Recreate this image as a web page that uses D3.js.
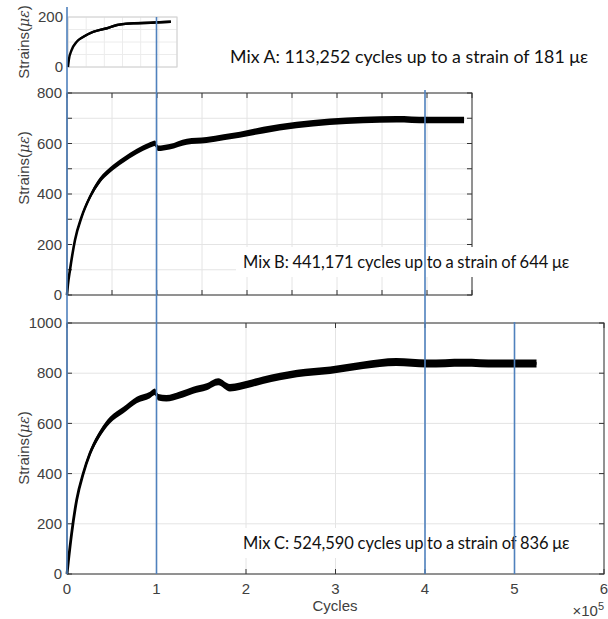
<!DOCTYPE html>
<html>
<head>
<meta charset="utf-8">
<script src="https://cdn.jsdelivr.net/npm/d3@7"></script>
<style>
  body { margin: 0; background: #fff; }
  svg { display: block; }
  .tick-label { font-family: "Liberation Sans", Arial, sans-serif; font-size: 15px; fill: #404040; }
  .note { font-family: Lato, "Open Sans", sans-serif; fill: #111; }
</style>
</head>
<body>
<div id="chart"></div>
<script>
// Mix A (small inset at the top)
const mixACycles = [0, 1000, 4000, 9600, 17000, 28000, 43000, 54000, 72600, 91000, 113252];
const mixAStrain = [0, 30, 68, 101, 121, 141, 155, 168, 175, 177, 181];
const mixASpread = [1, 2, 3, 4, 5, 5, 5, 5, 5, 5, 5];

// Mix B (middle panel)
const mixBCycles = [0, 1000, 3300, 8900, 16300, 25600, 36700, 47800, 62600, 77400, 92000, 97800, 101000,
    114000, 133000, 155000, 174000, 192000, 218000, 255000, 292000, 329000, 366000, 400000, 441171];
const mixBStrain = [0, 40, 99, 218, 310, 389, 455, 495, 535, 568, 594, 601, 581,
    587, 607, 614, 625, 635, 653, 673, 686, 693, 696, 693, 693];
const mixBSpread = [1, 2, 4, 7, 9, 10, 11, 11, 11, 11, 11, 11, 11,
    11, 12, 12, 12, 12, 13, 13, 13, 13, 13, 13, 13];

// Mix C (bottom panel)
const mixCCycles = [0, 1500, 5200, 10800, 18200, 25700, 36900, 48000, 63000, 77900, 92700, 98000, 102000,
    111000, 126000, 141000, 156000, 169000, 182000, 193000, 219000, 257000, 294000, 331000, 368000,
    402000, 443000, 480000, 524590];
const mixCStrain = [0, 50, 162, 295, 401, 481, 560, 613, 653, 693, 713, 726, 704,
    700, 713, 732, 746, 766, 742, 748, 772, 799, 812, 832, 845,
    839, 842, 839, 839];
const mixCSpread = [1, 3, 6, 9, 11, 12, 13, 13, 13, 13, 13, 13, 13,
    13, 14, 14, 14, 14, 15, 15, 15, 15, 15, 15, 16,
    16, 16, 16, 16];

const notes = [
    'Mix A: 113,252 cycles up to a strain of 181 με',
    'Mix B: 441,171 cycles up to a strain of 644 με',
    'Mix C: 524,590 cycles up to a strain of 836 με'
];
const markerCycles = [0, 100000, 400000, 500000];

const width = 608, height = 619;
const svg = d3.select('#chart').append('svg')
    .attr('width', width).attr('height', height);

const gridLayer = svg.append('g');
const dataLayer = svg.append('g');
const noteLayer = svg.append('g');
const markLayer = svg.append('g');

// panels: domain and pixel box
const panels = [
    { x: d3.scaleLinear().domain([0, 120000]).range([68, 177]),
      y: d3.scaleLinear().domain([0, 200]).range([67, 17]),
      xGrid: d3.range(0, 120001, 20000), yGrid: d3.range(0, 201, 50),
      yTicks: [], yLabels: [0, 200], xTicks: [],
      frame: '#d0d0d0', grid: '#ececec', lw: 2.4,
      cycles: mixACycles, strain: mixAStrain, spread: mixASpread, labelY: 42 },
    { x: d3.scaleLinear().domain([0, 450000]).range([67, 472]),
      y: d3.scaleLinear().domain([0, 800]).range([295, 93]),
      xGrid: d3.range(0, 450001, 50000), yGrid: d3.range(0, 801, 100),
      yTicks: d3.range(0, 801, 100), yLabels: d3.range(0, 801, 200), xTicks: d3.range(0, 450001, 50000),
      frame: '#333', grid: '#e4e4e4', lw: 2.6,
      cycles: mixBCycles, strain: mixBStrain, spread: mixBSpread, labelY: 168 },
    { x: d3.scaleLinear().domain([0, 600000]).range([67, 604]),
      y: d3.scaleLinear().domain([0, 1000]).range([574, 323]),
      xGrid: d3.range(0, 600001, 100000), yGrid: d3.range(0, 1001, 200),
      yTicks: d3.range(0, 1001, 200), yLabels: d3.range(0, 1001, 200), xTicks: d3.range(0, 600001, 100000),
      frame: '#333', grid: '#e4e4e4', lw: 2.8,
      cycles: mixCCycles, strain: mixCStrain, spread: mixCSpread, labelY: 448 }
];

panels.forEach((p, i) => {
    const [x0, x1] = p.x.range();
    const [y0, y1] = p.y.range();
    const g = gridLayer.append('g');

    g.selectAll('.vg').data(p.xGrid).enter().append('line')
        .attr('x1', d => p.x(d)).attr('x2', d => p.x(d))
        .attr('y1', y0).attr('y2', y1)
        .attr('stroke', p.grid).attr('stroke-width', 1);
    g.selectAll('.hg').data(p.yGrid).enter().append('line')
        .attr('x1', x0).attr('x2', x1)
        .attr('y1', d => p.y(d)).attr('y2', d => p.y(d))
        .attr('stroke', p.grid).attr('stroke-width', 1);

    // tick marks inside the box
    p.yTicks.forEach(t => {
        g.append('line').attr('x1', x0).attr('x2', x0 + 5)
            .attr('y1', p.y(t)).attr('y2', p.y(t)).attr('stroke', p.frame);
        g.append('line').attr('x1', x1).attr('x2', x1 - 5)
            .attr('y1', p.y(t)).attr('y2', p.y(t)).attr('stroke', p.frame);
    });
    p.xTicks.forEach(t => {
        g.append('line').attr('x1', p.x(t)).attr('x2', p.x(t))
            .attr('y1', y0).attr('y2', y0 - 5).attr('stroke', p.frame);
        g.append('line').attr('x1', p.x(t)).attr('x2', p.x(t))
            .attr('y1', y1).attr('y2', y1 + 5).attr('stroke', p.frame);
    });

    g.append('rect')
        .attr('x', x0).attr('y', y1)
        .attr('width', x1 - x0).attr('height', y0 - y1)
        .attr('fill', 'none').attr('stroke', p.frame).attr('stroke-width', 1);

    g.selectAll('.yl').data(p.yLabels).enter().append('text')
        .attr('class', 'tick-label')
        .attr('x', x0 - 5).attr('y', d => p.y(d))
        .attr('dy', '0.35em').attr('text-anchor', 'end')
        .text(d => d);

    const lab = g.append('text')
        .attr('class', 'tick-label')
        .attr('transform', `translate(24,${p.labelY}) rotate(-90)`)
        .attr('text-anchor', 'middle').attr('dy', '0.35em');
    lab.append('tspan').text('Strains(');
    lab.append('tspan').attr('font-style', 'italic').attr('font-family', 'DejaVu Serif').attr('font-size', 14).text('με');
    lab.append('tspan').text(')');

    // data: centre line plus noise band
    const pts = p.cycles.map((c, k) => ({ c, v: p.strain[k], s: p.spread[k] }));
    dataLayer.append('path')
        .datum(pts)
        .attr('d', d3.area()
            .x(d => p.x(d.c))
            .y0(d => p.y(Math.max(0, d.v - d.s)))
            .y1(d => p.y(d.v + d.s))
            .curve(d3.curveMonotoneX))
        .attr('fill', '#000');
    dataLayer.append('path')
        .datum(pts)
        .attr('d', d3.line().x(d => p.x(d.c)).y(d => p.y(d.v)).curve(d3.curveMonotoneX))
        .attr('fill', 'none').attr('stroke', '#000').attr('stroke-width', p.lw);
});

// bottom x axis labels
const xb = panels[2].x;
gridLayer.selectAll('.xl').data(panels[2].xTicks).enter().append('text')
    .attr('class', 'tick-label')
    .attr('x', d => xb(d)).attr('y', 594)
    .attr('text-anchor', 'middle')
    .text(d => d / 100000);
gridLayer.append('text').attr('class', 'tick-label')
    .attr('x', 335).attr('y', 611).attr('text-anchor', 'middle').text('Cycles');
const exp = gridLayer.append('text').attr('class', 'tick-label')
    .attr('x', 604).attr('y', 616).attr('text-anchor', 'end').attr('font-size', 14);
exp.append('tspan').text('×10');
exp.append('tspan').attr('dy', -6).attr('font-size', 11).text('5');

// annotations with white boxes
const notePos = [[230, 63, 17.8], [243, 268, 16.5], [243, 549, 16.5]];
notes.forEach((t, i) => {
    if (i > 0) {
        noteLayer.append('rect')
            .attr('x', 236).attr('y', notePos[i][1] - 21)
            .attr('width', 360).attr('height', 30)
            .attr('fill', '#fff');
    }
    noteLayer.append('text').attr('class', 'note')
        .attr('x', notePos[i][0]).attr('y', notePos[i][1])
        .attr('font-size', notePos[i][2])
        .attr('word-spacing', i > 0 ? -0.6 : 0)
        .text(t);
});

// blue marker lines
const markTop = [7, 17, 90, 322];
markLayer.selectAll('line').data(markerCycles).enter().append('line')
    .attr('x1', d => xb(d)).attr('x2', d => xb(d))
    .attr('y1', (d, i) => markTop[i]).attr('y2', 574)
    .attr('stroke', '#4f81bd').attr('stroke-width', 1.6);
</script>
</body>
</html>
